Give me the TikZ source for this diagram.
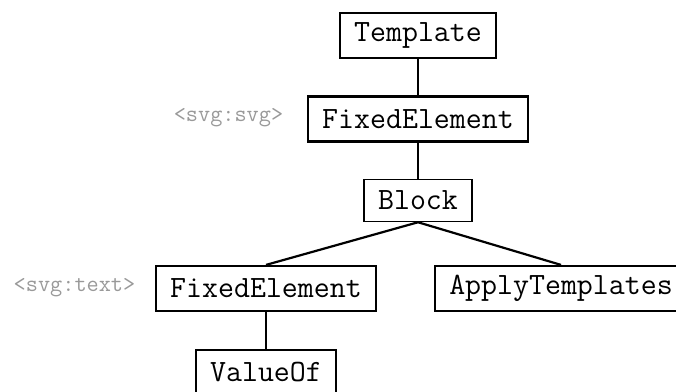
\documentclass[tikz,border=0pt]{standalone}
\begin{document}
\begin{tikzpicture}
                [x=1pt, y=-1pt,
        box/.style={rectangle,draw,line width=2.2pt, minimum height=45pt, inner xsep=14pt, font=\ttfamily\fontsize{31}{36}\selectfont},
        boxThin/.style={box, line width=1.5pt, minimum height=42pt},
        tag/.style={text=gray!80, font=\ttfamily\fontsize{23.6}{28}\selectfont}]
                \useasboundingbox (0,0) rectangle (676,391);
                \node[box] (T) at (418,35.5) {Template};
                \node[box] (F1) at (418,119) {FixedElement};
                \node[boxThin] (B) at (418,200.5) {Block};
                \node[box] (F2) at (266,288.5) {FixedElement};
                \node[box] (A) at (561,288.5) {ApplyTemplates};
                \node[box] (V) at (266,372.5) {ValueOf};
                \node[tag] (S1) at (228.5,118) {<svg:svg>};
                \node[tag] (S2) at (74.5,288) {<svg:text>};
                
                \draw[line width=2.2pt] (T) -- (F1);
                \draw[line width=2.2pt] (F1) -- (B);
                \draw[line width=2.2pt] (B.south) -- (F2.north);
                \draw[line width=2.2pt] (B.south) -- (A.north);
                \draw[line width=2.2pt] (F2) -- (V);
            \end{tikzpicture}
\end{document}
